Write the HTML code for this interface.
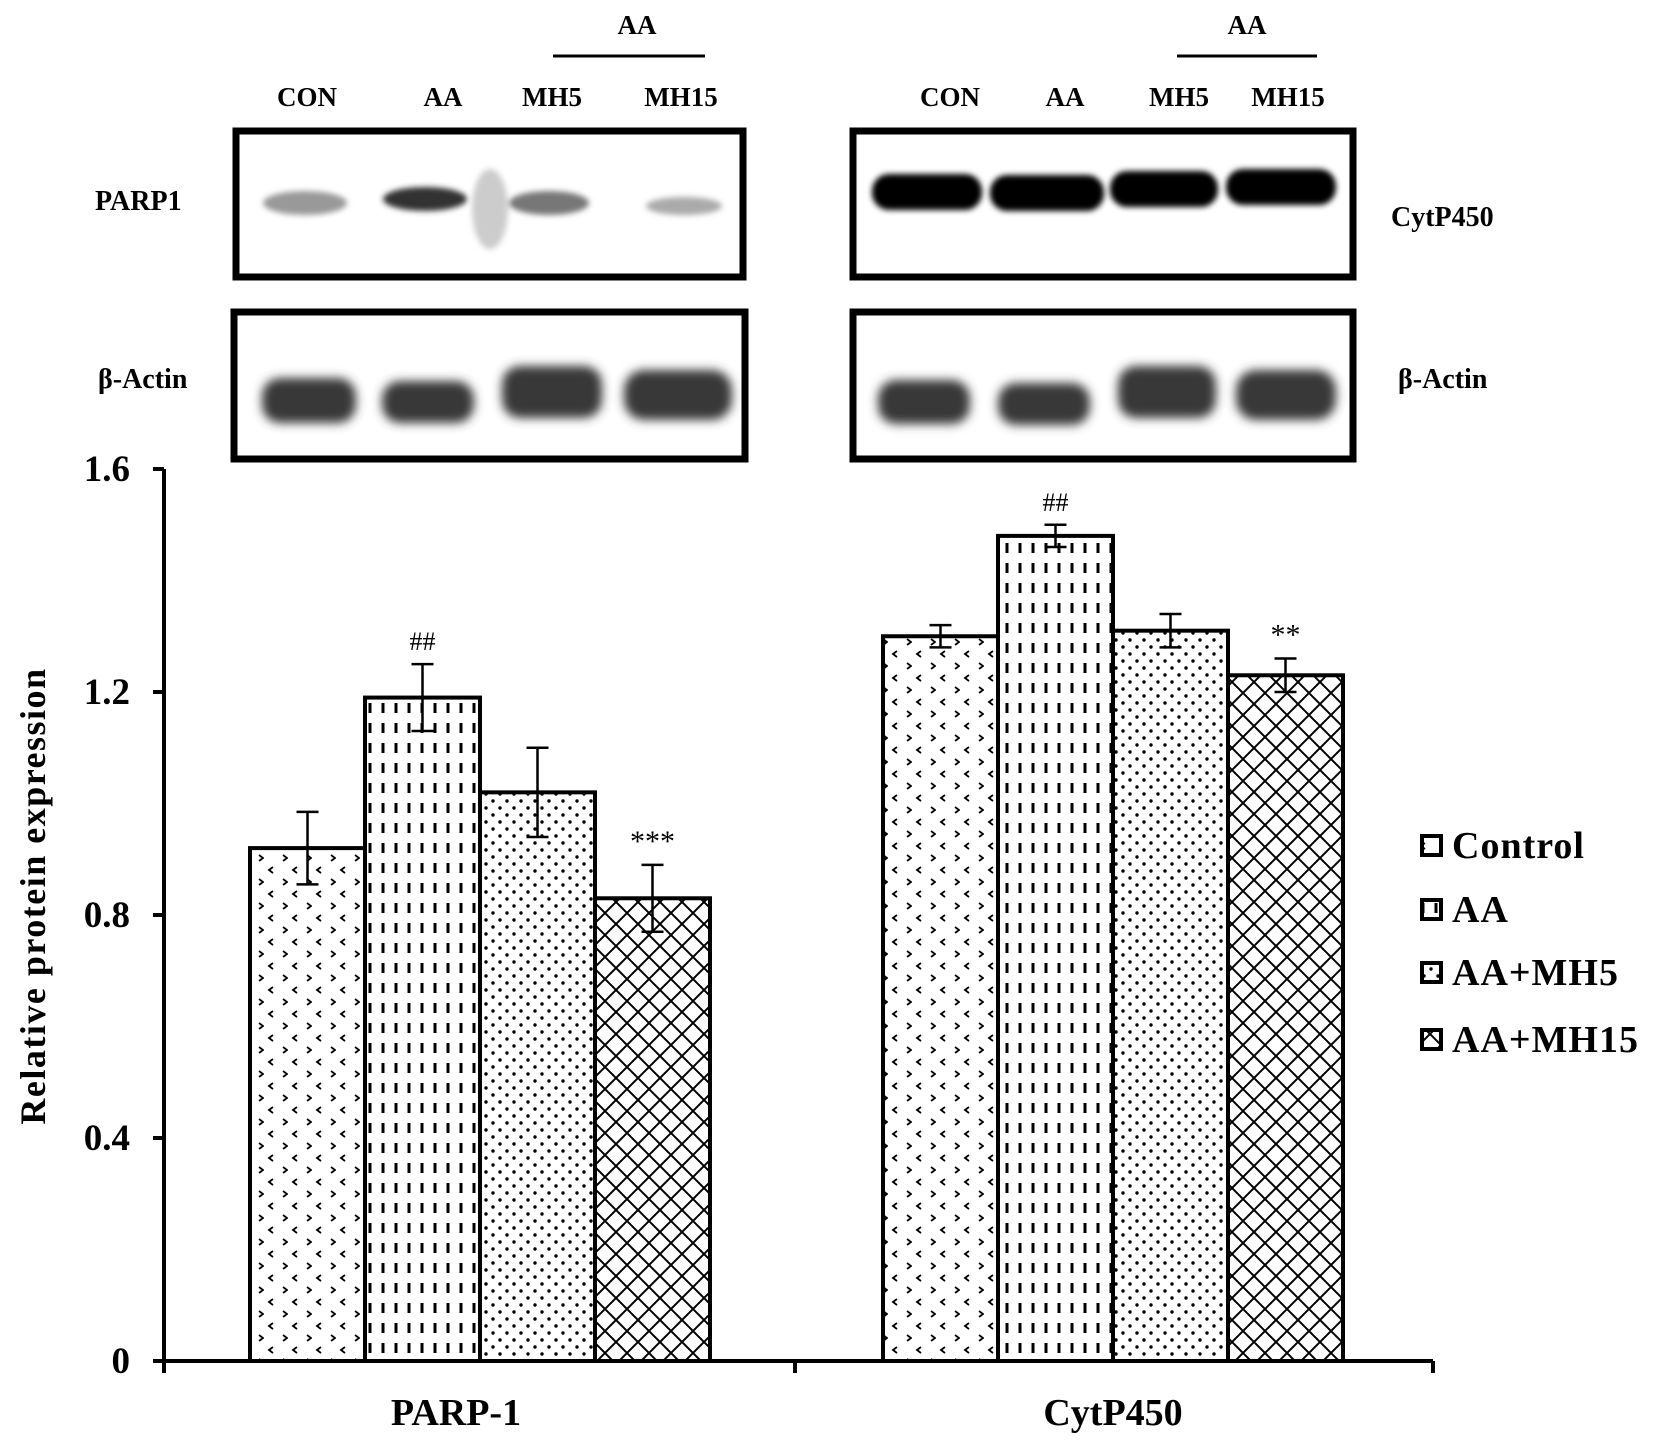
<!DOCTYPE html>
<html><head><meta charset="utf-8"><style>
html,body{margin:0;padding:0;background:#fff;}
svg{display:block;font-family:"Liberation Serif",serif;font-weight:bold;}
</style></head><body>
<svg id="fig" width="1654" height="1442" viewBox="0 0 1654 1442">
<defs>
<pattern id="pCon" width="24" height="24" patternUnits="userSpaceOnUse">
<path d="M9,3 L5,6 L9,9 M19,15 L23,18 L19,21" fill="none" stroke="#000" stroke-width="1.8"/>
</pattern>
<pattern id="pAA" width="13" height="20" patternUnits="userSpaceOnUse">
<line x1="6" y1="3" x2="6" y2="13" stroke="#000" stroke-width="3"/>
</pattern>
<pattern id="pMH5" width="14" height="14" patternUnits="userSpaceOnUse">
<circle cx="3" cy="3" r="1.7" fill="#000"/><circle cx="10" cy="10" r="1.7" fill="#000"/>
</pattern>
<pattern id="pMH15" width="22" height="22" patternUnits="userSpaceOnUse">
<path d="M0,0 L22,22 M22,0 L0,22" stroke="#000" stroke-width="2"/>
</pattern>
<filter id="blur" x="-20%" y="-50%" width="140%" height="200%"><feGaussianBlur stdDeviation="5"/></filter>
<filter id="blur2" x="-20%" y="-50%" width="140%" height="200%"><feGaussianBlur stdDeviation="3"/></filter>
</defs>

<g font-size="27" text-anchor="middle">
<text x="307" y="106">CON</text><text x="443" y="106">AA</text><text x="552" y="106">MH5</text><text x="681" y="106">MH15</text>
<text x="637" y="34">AA</text>
</g>
<line x1="553" y1="56" x2="705" y2="56" stroke="#000" stroke-width="3"/>
<g font-size="27" text-anchor="middle">
<text x="950" y="106">CON</text><text x="1065" y="106">AA</text><text x="1179" y="106">MH5</text><text x="1288" y="106">MH15</text>
<text x="1247" y="34">AA</text>
</g>
<line x1="1177" y1="56" x2="1317" y2="56" stroke="#000" stroke-width="3"/>

<g>
<rect x="236" y="131" width="507" height="146" fill="#fff" stroke="#000" stroke-width="7"/>
<g filter="url(#blur2)" fill="#888">
<ellipse cx="305" cy="203" rx="42" ry="12" fill="#999"/>
<ellipse cx="425" cy="199" rx="42" ry="12" fill="#333"/>
<ellipse cx="549" cy="203" rx="40" ry="12" fill="#777"/>
<ellipse cx="490" cy="209" rx="18" ry="40" fill="#ccc"/>
<ellipse cx="684" cy="206" rx="38" ry="9" fill="#aaa"/>
</g>
</g>
<text x="95" y="210" font-size="28">PARP1</text>
<g>
<rect x="234" y="312" width="511" height="147" fill="#fff" stroke="#000" stroke-width="7"/>
<g filter="url(#blur)" fill="#383838">
<rect x="262" y="378" width="94" height="45" rx="18"/>
<rect x="382" y="381" width="92" height="42" rx="18"/>
<rect x="502" y="366" width="100" height="52" rx="18"/>
<rect x="624" y="370" width="108" height="50" rx="20"/>
</g>
</g>
<text x="98" y="388" font-size="28">β-Actin</text>

<g>
<rect x="853" y="131" width="500" height="146" fill="#fff" stroke="#000" stroke-width="7"/>
<g filter="url(#blur2)" fill="#000">
<rect x="872" y="174" width="110" height="36" rx="17"/>
<rect x="990" y="175" width="114" height="36" rx="17"/>
<rect x="1110" y="171" width="108" height="36" rx="17"/>
<rect x="1226" y="169" width="110" height="36" rx="17"/>
</g>
</g>
<text x="1391" y="226" font-size="28">CytP450</text>
<g>
<rect x="853" y="312" width="500" height="147" fill="#fff" stroke="#000" stroke-width="7"/>
<g filter="url(#blur)" fill="#383838">
<rect x="878" y="380" width="92" height="44" rx="18"/>
<rect x="998" y="383" width="92" height="42" rx="18"/>
<rect x="1118" y="366" width="98" height="52" rx="18"/>
<rect x="1236" y="370" width="100" height="50" rx="20"/>
</g>
</g>
<text x="1398" y="388" font-size="28">β-Actin</text>

<g id="chart"></g>
</svg>
<script>
const groups = ["PARP-1", "CytP450"];
const series = ["Control", "AA", "AA+MH5", "AA+MH15"];
const controlVals = [0.92, 1.30];
const aaVals = [1.19, 1.48];
const mh5Vals = [1.02, 1.31];
const mh15Vals = [0.83, 1.23];
const controlErr = [0.065, 0.02];
const aaErr = [0.06, 0.02];
const mh5Err = [0.08, 0.03];
const mh15Err = [0.06, 0.03];
const yTicks = [0, 0.4, 0.8, 1.2, 1.6];
const yTickLabels = ["0", "0.4", "0.8", "1.2", "1.6"];
const annotations = [["", "##", "", "***"], ["", "##", "", "**"]];

const NS = "http://www.w3.org/2000/svg";
const g = document.getElementById('chart');
const X0 = 164, X1 = 1433, Y0 = 1361, Ytop = 469, YMAX = 1.6;
const y = v => Y0 - v / YMAX * (Y0 - Ytop);
const groupStart = [250, 883], barW = 115;
const x = (gi, si) => groupStart[gi] + si * barW;
const vals = [controlVals, aaVals, mh5Vals, mh15Vals];
const errs = [controlErr, aaErr, mh5Err, mh15Err];
const fills = ["url(#pCon)", "url(#pAA)", "url(#pMH5)", "url(#pMH15)"];
function mk(tag, attrs, parent) {
  const e = document.createElementNS(NS, tag);
  for (const k in attrs) e.setAttribute(k, attrs[k]);
  (parent || g).appendChild(e);
  return e;
}
for (let gi = 0; gi < groups.length; gi++) {
  for (let si = 0; si < series.length; si++) {
    const v = vals[si][gi];
    const r = mk('rect', {x: x(gi, si), y: y(v), width: barW, height: Y0 - y(v), fill: fills[si], stroke: '#000', 'stroke-width': 4});
    
    
  }
}
for (let gi = 0; gi < groups.length; gi++) {
  for (let si = 0; si < series.length; si++) {
    const v = vals[si][gi], e = errs[si][gi], cx = x(gi, si) + barW / 2;
    const eb = mk('path', {d: `M${cx},${y(v + e)}V${y(v - e)}M${cx - 11},${y(v + e)}H${cx + 11}M${cx - 11},${y(v - e)}H${cx + 11}`, stroke: '#000', 'stroke-width': 2.5, fill: 'none'});
    
    
    const a = annotations[gi][si];
    if (a) {
      const t = mk('text', {x: cx, y: y(v + e) - 14, 'font-size': a[0] === '#' ? 26 : 30, 'text-anchor': 'middle', 'font-weight': 'normal'});
      t.textContent = a;
      
      
    }
  }
}
const ax = mk('path', {d: `M${X0},${Ytop}V${Y0}H${X1}`, stroke: '#000', 'stroke-width': 4, fill: 'none'});


yTicks.forEach((t, i) => {
  mk('line', {x1: X0 - 11, x2: X0, y1: y(t), y2: y(t), stroke: '#000', 'stroke-width': 4});
  const lb = mk('text', {x: 130, y: y(t) + 12, 'font-size': 37, 'text-anchor': 'end'});
  lb.textContent = yTickLabels[i];
  
  
});
[X0, 795, X1].forEach(px => mk('line', {x1: px, x2: px, y1: Y0, y2: Y0 + 12, stroke: '#000', 'stroke-width': 4}));
const catX = [456, 1113];
groups.forEach((gname, i) => {
  const t = mk('text', {x: catX[i], y: 1425, 'font-size': 38, 'text-anchor': 'middle'});
  t.textContent = gname;
  
  
});
const yt = mk('text', {x: 0, y: 0, 'font-size': 36, 'letter-spacing': '1.5', 'text-anchor': 'middle', transform: 'translate(45,896) rotate(-90)'});
yt.textContent = 'Relative protein expression';


const legY = [846, 910, 973, 1040];
series.forEach((s, i) => {
  const sq = mk('rect', {x: 1422, y: legY[i] - 10, width: 19, height: 19, fill: fills[i], stroke: '#000', 'stroke-width': 4});
  
  
  const t = mk('text', {x: 1452, y: legY[i] + 12, 'font-size': 38, 'letter-spacing': '1'});
  t.textContent = s;
  
  
});
</script>
</body></html>
